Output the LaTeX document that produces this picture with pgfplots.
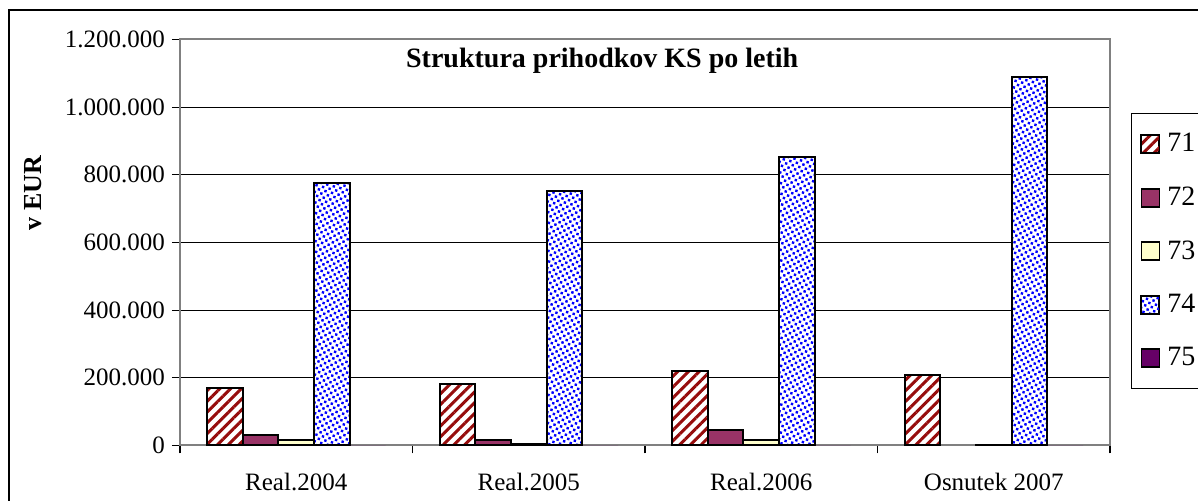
\documentclass[border=0pt]{standalone}
\usepackage{fontspec}
\setmainfont{Liberation Serif}
\usepackage{pgfplots}
\pgfplotsset{compat=1.18}
\usetikzlibrary{patterns.meta}

\definecolor{c71}{RGB}{150,12,12}
\definecolor{c72}{HTML}{993366}
\definecolor{c73}{HTML}{FFFFCC}
\definecolor{c74}{HTML}{0000FF}
\definecolor{c75}{HTML}{660066}
\definecolor{axgray}{HTML}{808080}

\begin{document}
\begin{tikzpicture}[font=\fontsize{12.5}{15}\selectfont]
\path[use as bounding box] (0pt,0pt) rectangle (599pt,250.5pt);
\clip (0pt,0pt) rectangle (599pt,250.5pt);
\draw[line width=0.8pt] (4.5pt,-20pt) rectangle (640pt,245.5pt);
\begin{scope}[overlay]
\begin{axis}[
    at={(90pt,27.75pt)}, anchor=south west,
    scale only axis, width=465pt, height=203pt,
    ybar=0pt, bar width=17.85pt,
    xmin=-0.5, xmax=3.5, ymin=0, ymax=1200000,
    xtick={0,1,2,3},
    xticklabels={Real.2004, Real.2005, Real.2006, Osnutek 2007},
    major x tick style={draw=none},
    minor xtick={-0.5,0.5,1.5,2.5,3.5},
    minor tick length=4pt,
    ytick={0,200000,400000,600000,800000,1000000,1200000},
    scaled y ticks=false,
    yticklabel style={/pgf/number format/.cd, fixed, 1000 sep={.}, assume math mode=true},
    xticklabel style={yshift=-6.5pt},
    tick pos=left, tick align=outside,
    major tick length=4pt,
    tick style={black, line width=0.6pt},
    ymajorgrids, major grid style={black, line width=0.5pt},
    axis line style={axgray, line width=1pt},
    title={Struktura prihodkov KS po letih},
    title style={at={(axis description cs:0.454,0.9175)}, anchor=center, yshift=0pt,
        font=\fontsize{14}{16}\selectfont\bfseries},
    ylabel={v EUR},
    ylabel style={at={(axis description cs:-0.158,0.622)}, anchor=center,
        font=\fontsize{13}{15}\selectfont\bfseries},
    legend style={at={(axis description cs:1.0226,0.819)}, anchor=north west,
        draw=black, line width=0.5pt, row sep=14pt, inner xsep=4.5pt, inner ysep=9pt,
        font=\fontsize{14}{16}\selectfont, nodes={inner sep=1pt}},
    legend cell align=left,
    legend image code/.code={\draw[#1, draw=black, line width=0.9pt] (0pt,-4.5pt) rectangle (9pt,4.5pt);},
]
\addplot[draw=black, line width=1pt, preaction={fill=white},
    pattern={Lines[angle=45, distance=3.8pt, line width=1.5pt]}, pattern color=c71]
    coordinates {(0,169000) (1,183000) (2,221000) (3,208000)};
\addlegendentry{\hspace{2.5pt}71\hspace{8pt}}
\addplot[draw=black, line width=1pt, fill=c72]
    coordinates {(0,30000) (1,17000) (2,45000)};
\addlegendentry{\hspace{2.5pt}72\hspace{8pt}}
\addplot[draw=black, line width=1pt, fill=c73]
    coordinates {(0,15000) (1,5000) (2,15000) (3,2000)};
\addlegendentry{\hspace{2.5pt}73\hspace{8pt}}
\addplot[draw=black, line width=1pt, preaction={fill=white},
    pattern={Dots[radius=0.85pt, distance=2.4pt, angle=30]}, pattern color=c74]
    coordinates {(0,776000) (1,752000) (2,853000) (3,1090000)};
\addlegendentry{\hspace{2.5pt}74\hspace{8pt}}
\addplot[draw=none, fill=c75]
    coordinates {(0,0) (1,0) (2,0) (3,0)};
\addlegendentry{\hspace{2.5pt}75\hspace{8pt}}
\end{axis}
\end{scope}
\end{tikzpicture}
\end{document}
